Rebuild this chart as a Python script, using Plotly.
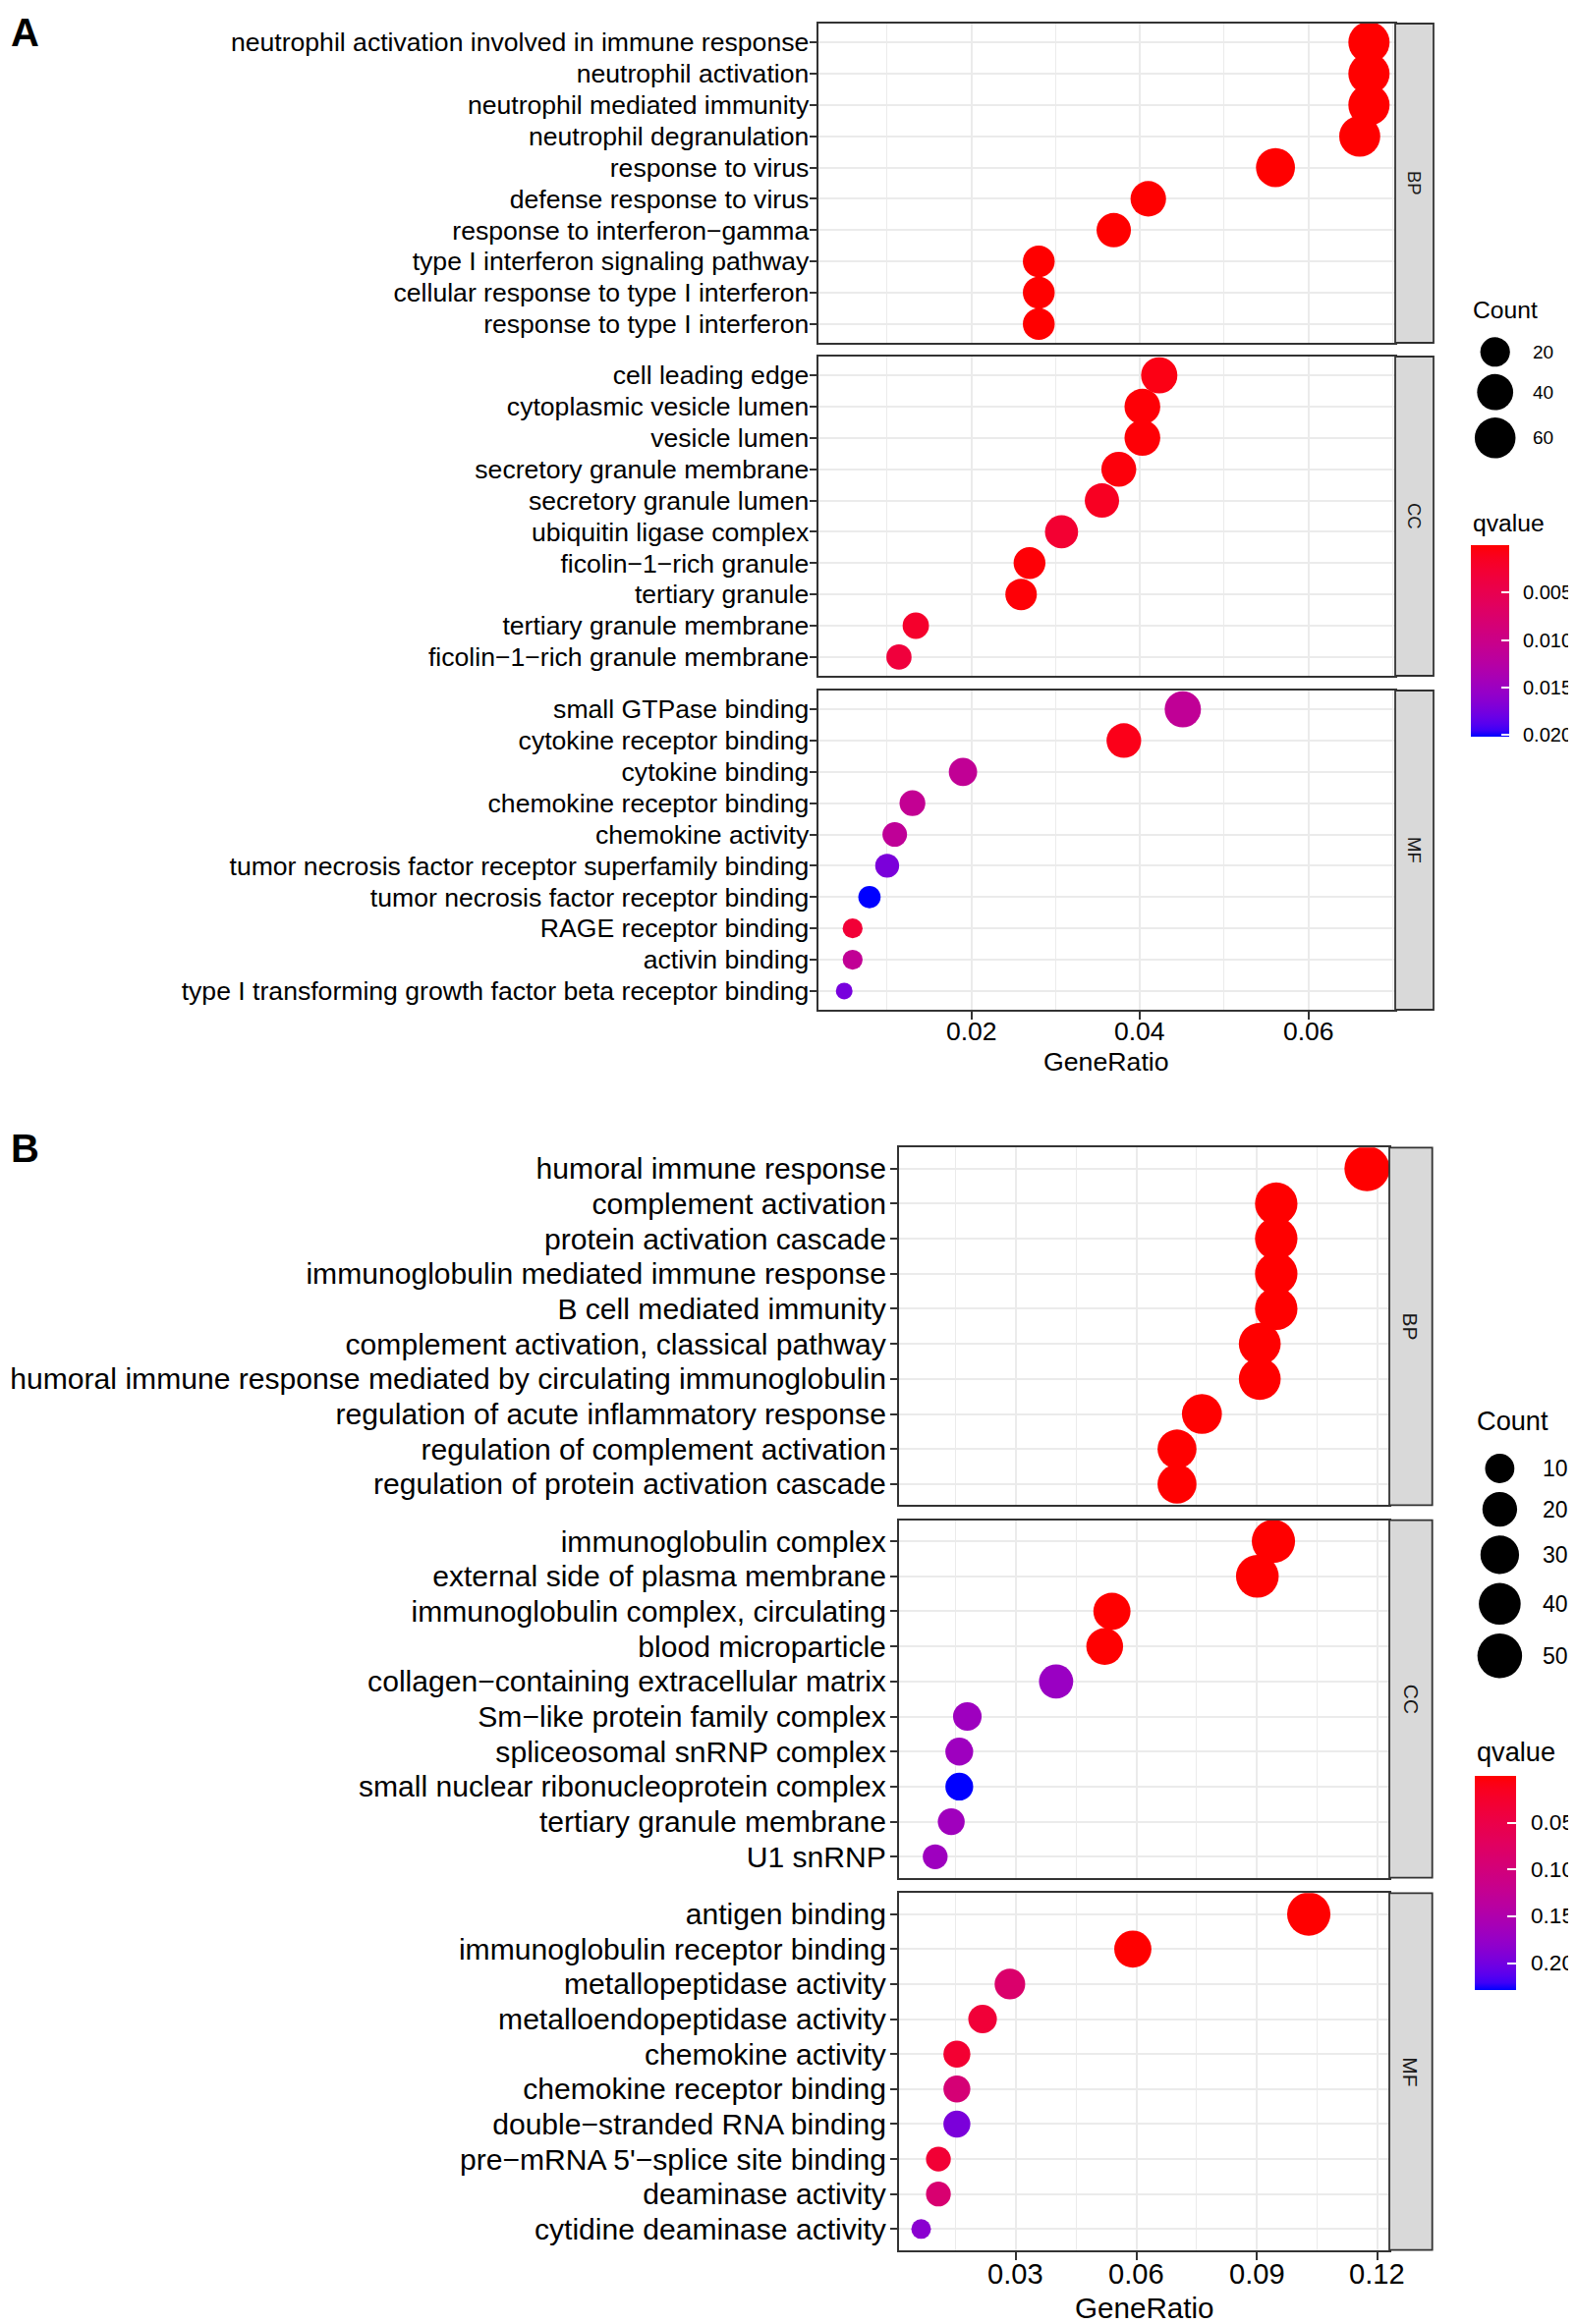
import numpy as np
import plotly.graph_objects as go

W, H = 1604, 2366          # page size
OFF = 8                    # default body margin of the html page
FW, FH = W - OFF, H - OFF  # figure size so that it ends exactly at the page edge

# ---------------- Panel A data ----------------
A_BP_terms = ["neutrophil activation involved in immune response", "neutrophil activation",
              "neutrophil mediated immunity", "neutrophil degranulation", "response to virus",
              "defense response to virus", "response to interferon\u2212gamma",
              "type I interferon signaling pathway", "cellular response to type I interferon",
              "response to type I interferon"]
A_BP_ratio = [0.0672, 0.0672, 0.0672, 0.0661, 0.0561, 0.0410, 0.0369, 0.0280, 0.0280, 0.0280]
A_BP_count = [62, 62, 62, 61, 52, 38, 34, 26, 26, 26]
A_BP_q = [1e-10, 1e-10, 1e-10, 2e-10, 5e-9, 3e-7, 9e-7, 2e-6, 2e-6, 2e-6]

A_CC_terms = ["cell leading edge", "cytoplasmic vesicle lumen", "vesicle lumen",
              "secretory granule membrane", "secretory granule lumen", "ubiquitin ligase complex",
              "ficolin\u22121\u2212rich granule", "tertiary granule", "tertiary granule membrane",
              "ficolin\u22121\u2212rich granule membrane"]
A_CC_ratio = [0.0423, 0.0403, 0.0403, 0.0375, 0.0355, 0.0307, 0.0269, 0.0259, 0.0134, 0.0114]
A_CC_count = [41, 39, 39, 36, 34, 30, 26, 25, 13, 11]
A_CC_q = [0.0007, 0.0002, 0.0002, 0.0004, 0.0015, 0.0026, 0.0002, 0.0002, 0.0022, 0.0034]

A_MF_terms = ["small GTPase binding", "cytokine receptor binding", "cytokine binding",
              "chemokine receptor binding", "chemokine activity",
              "tumor necrosis factor receptor superfamily binding",
              "tumor necrosis factor receptor binding", "RAGE receptor binding", "activin binding",
              "type I transforming growth factor beta receptor binding"]
A_MF_ratio = [0.0451, 0.0381, 0.0190, 0.0130, 0.0109, 0.0100, 0.0079, 0.0059, 0.0059, 0.0049]
A_MF_count = [41, 35, 17, 12, 10, 9, 7, 5, 5, 4]
A_MF_q = [0.0113, 0.0010, 0.0112, 0.0110, 0.0114, 0.0172, 0.0202, 0.0030, 0.0112, 0.0174]

A_size_legend = [20, 40, 60]
A_q_ticks = [0.005, 0.010, 0.015, 0.020]
A_q_ticktext = ["0.005", "0.010", "0.015", "0.020"]
A_x_ticks = [0.02, 0.04, 0.06]
A_x_ticktext = ["0.02", "0.04", "0.06"]
A_x_minor = 0.01

# ---------------- Panel B data ----------------
B_BP_terms = ["humoral immune response", "complement activation", "protein activation cascade",
              "immunoglobulin mediated immune response", "B cell mediated immunity",
              "complement activation, classical pathway",
              "humoral immune response mediated by circulating immunoglobulin",
              "regulation of acute inflammatory response", "regulation of complement activation",
              "regulation of protein activation cascade"]
B_BP_ratio = [0.1174, 0.0948, 0.0948, 0.0948, 0.0948, 0.0907, 0.0907, 0.0763, 0.0701, 0.0701]
B_BP_count = [52, 42, 42, 42, 42, 40, 40, 34, 31, 31]
B_BP_q = [1e-12, 1e-11, 1e-11, 1e-11, 1e-11, 2e-11, 2e-11, 1e-9, 5e-9, 5e-9]

B_CC_terms = ["immunoglobulin complex", "external side of plasma membrane",
              "immunoglobulin complex, circulating", "blood microparticle",
              "collagen\u2212containing extracellular matrix", "Sm\u2212like protein family complex",
              "spliceosomal snRNP complex", "small nuclear ribonucleoprotein complex",
              "tertiary granule membrane", "U1 snRNP"]
B_CC_ratio = [0.0941, 0.0901, 0.0539, 0.0521, 0.0400, 0.0179, 0.0159, 0.0159, 0.0139, 0.0099]
B_CC_count = [45, 43, 26, 25, 19, 9, 8, 8, 7, 5]
B_CC_q = [1e-8, 2e-8, 1e-4, 3e-4, 0.172, 0.168, 0.168, 0.229, 0.166, 0.168]

B_MF_terms = ["antigen binding", "immunoglobulin receptor binding", "metallopeptidase activity",
              "metalloendopeptidase activity", "chemokine activity", "chemokine receptor binding",
              "double\u2212stranded RNA binding", "pre\u2212mRNA 5'\u2212splice site binding",
              "deaminase activity", "cytidine deaminase activity"]
B_MF_ratio = [0.1029, 0.0591, 0.0285, 0.0217, 0.0153, 0.0153, 0.0153, 0.0107, 0.0107, 0.0064]
B_MF_count = [45, 26, 12, 9, 7, 7, 7, 5, 5, 3]
B_MF_q = [1e-9, 1e-4, 0.085, 0.035, 0.030, 0.095, 0.195, 0.032, 0.090, 0.185]

B_size_legend = [10, 20, 30, 40, 50]
B_q_ticks = [0.05, 0.10, 0.15, 0.20]
B_q_ticktext = ["0.05", "0.10", "0.15", "0.20"]
B_x_ticks = [0.03, 0.06, 0.09, 0.12]
B_x_ticktext = ["0.03", "0.06", "0.09", "0.12"]
B_x_minor = 0.015

FACET_NAMES = ["BP", "CC", "MF"]

# ---------------- styles ----------------
FONT = "Liberation Sans, Arial, sans-serif"
GRID = "#EBEBEB"
BORDER = "#333333"
STRIP = "#D9D9D9"


# ---------------- Lab colour interpolation (red -> blue, like ggplot) ----------------
M = np.array([[0.4124564, 0.3575761, 0.1804375],
              [0.2126729, 0.7151522, 0.0721750],
              [0.0193339, 0.1191920, 0.9503041]])
WHITE = np.array([0.95047, 1.0, 1.08883])


def _lin(c):
    c = np.asarray(c, dtype=float) / 255.0
    return np.where(c <= 0.04045, c / 12.92, ((c + 0.055) / 1.055) ** 2.4)


def _delin(c):
    c = np.clip(c, 0, 1)
    return np.where(c <= 0.0031308, 12.92 * c, 1.055 * c ** (1 / 2.4) - 0.055) * 255


def rgb2lab(rgb):
    xyz = M @ _lin(rgb) / WHITE
    f = np.where(xyz > 0.008856, np.cbrt(xyz), 7.787 * xyz + 16 / 116)
    return np.array([116 * f[1] - 16, 500 * (f[0] - f[1]), 200 * (f[1] - f[2])])


def lab2rgb(lab):
    L, a, b = lab
    fy_ = (L + 16) / 116
    f = np.array([fy_ + a / 500, fy_, fy_ - b / 200])
    xyz = np.where(f ** 3 > 0.008856, f ** 3, (f - 16 / 116) / 7.787) * WHITE
    return _delin(np.linalg.solve(M, xyz))


RED_LAB = rgb2lab([255, 0, 0])
BLUE_LAB = rgb2lab([0, 0, 255])
COLORSCALE = []
for s in np.linspace(0, 1, 31):
    r, g, b = lab2rgb(BLUE_LAB + s * (RED_LAB - BLUE_LAB))
    COLORSCALE.append([float(s), f"rgb({int(round(r))},{int(round(g))},{int(round(b))})"])


def diam(c, cmin, cmax, dmin, dmax):
    c = np.asarray(c, dtype=float)
    return dmin + (dmax - dmin) * np.sqrt(np.clip((c - cmin) / (cmax - cmin), 0, 1))


def fx(px):   # page pixel -> figure paper fraction (x)
    return (px - OFF) / FW


def fy(py):   # page pixel -> figure paper fraction (y, from bottom)
    return 1 - (py - OFF) / FH


panels = [
    dict(letter="A", letter_xy=(25, 8.5),
         facets=[(A_BP_terms, A_BP_ratio, A_BP_count, A_BP_q),
                 (A_CC_terms, A_CC_ratio, A_CC_count, A_CC_q),
                 (A_MF_terms, A_MF_ratio, A_MF_count, A_MF_q)],
         x0=832.5, x1=1420, strip_x1=1459,
         facet_y=[(24, 349), (363, 688), (703, 1028)],
         x_ticks=A_x_ticks, x_ticktext=A_x_ticktext, minor=A_x_minor,
         fs_y=26.6, fs_x=26.5, fs_title=26.7, fs_strip=18.5, y_standoff=-5,
         xlab_y=1050, title_y=1081, dmin=17, dmax=42,
         size_legend=A_size_legend, leg_title_y=315, leg_x=1496.7, key_x=1521.7,
         key_y0=358.3, key_pad=7.5, key_label_x=1558, fs_leg_title=24.7, fs_leg=19,
         q_title_y=532.3, cb_top=555, cb_bot=750, cb_w=39, cb_label_x=1547.7,
         q_ticks=A_q_ticks, q_ticktext=A_q_ticktext, fs_cb=20),
    dict(letter="B", letter_xy=(25, 1145),
         facets=[(B_BP_terms, B_BP_ratio, B_BP_count, B_BP_q),
                 (B_CC_terms, B_CC_ratio, B_CC_count, B_CC_q),
                 (B_MF_terms, B_MF_ratio, B_MF_count, B_MF_q)],
         x0=914.8, x1=1414, strip_x1=1457.7,
         facet_y=[(1168.3, 1532.3), (1547.7, 1911.7), (1927.3, 2290.7)],
         x_ticks=B_x_ticks, x_ticktext=B_x_ticktext, minor=B_x_minor,
         fs_y=30.1, fs_x=29.1, fs_title=29.6, fs_strip=21, y_standoff=-2,
         xlab_y=2315, title_y=2349, dmin=20, dmax=46,
         size_legend=B_size_legend, leg_title_y=1446.7, leg_x=1500.8, key_x=1526.4,
         key_y0=1495, key_pad=9.0, key_label_x=1568, fs_leg_title=27.2, fs_leg=23,
         q_title_y=1783.3, cb_top=1808.3, cb_bot=2026, cb_w=42, cb_label_x=1556.4,
         q_ticks=B_q_ticks, q_ticktext=B_q_ticktext, fs_cb=22.6),
]

fig = go.Figure()
layout = dict(width=FW, height=FH, margin=dict(l=0, r=0, t=0, b=0),
              paper_bgcolor="white", plot_bgcolor="rgba(0,0,0,0)", showlegend=False,
              template="none")
annotations, shapes = [], []
OV = ("x7", "y7")  # pixel overlay axes (page pixel coordinates)

ax_i = 0
for p_idx, p in enumerate(panels):
    all_ratio = np.concatenate([f[1] for f in p["facets"]])
    all_count = np.concatenate([f[2] for f in p["facets"]])
    all_q = np.concatenate([f[3] for f in p["facets"]])
    lo, hi = all_ratio.min(), all_ratio.max()
    xr = [lo - 0.05 * (hi - lo), hi + 0.05 * (hi - lo)]
    cmin, cmax = all_count.min(), all_count.max()
    cax = "coloraxis" if p_idx == 0 else "coloraxis2"

    for f_idx, (terms, ratio, count, q) in enumerate(p["facets"]):
        ax_i += 1
        xa = "xaxis" if ax_i == 1 else f"xaxis{ax_i}"
        ya = "yaxis" if ax_i == 1 else f"yaxis{ax_i}"
        xref = "x" if ax_i == 1 else f"x{ax_i}"
        yref = "y" if ax_i == 1 else f"y{ax_i}"
        y0, y1 = p["facet_y"][f_idx]
        bottom = f_idx == len(p["facets"]) - 1
        layout[xa] = dict(domain=[fx(p["x0"]), fx(p["x1"])], range=xr, anchor=yref,
                          tickmode="array", tickvals=p["x_ticks"],
                          showgrid=True, gridcolor=GRID, gridwidth=2.2,
                          minor=dict(tick0=0, dtick=p["minor"], showgrid=True,
                                     gridcolor=GRID, gridwidth=1.2, ticks=""),
                          showline=True, mirror=True, linecolor=BORDER, linewidth=1.8,
                          zeroline=False, ticks="outside" if bottom else "", ticklen=8,
                          tickwidth=1.8, tickcolor=BORDER, showticklabels=False,
                          automargin=False, fixedrange=True)
        n = len(terms)
        layout[ya] = dict(domain=[fy(y1), fy(y0)], type="category",
                          categoryorder="array", categoryarray=terms,
                          tickmode="array", tickvals=terms, ticktext=terms,
                          range=[n - 1 + 0.6, -0.6], anchor=xref,
                          showgrid=True, gridcolor=GRID, gridwidth=2.2,
                          showline=True, mirror=True, linecolor=BORDER, linewidth=1.8,
                          zeroline=False, ticks="outside", ticklen=7, tickwidth=1.8,
                          tickcolor=BORDER, ticklabelstandoff=p["y_standoff"],
                          tickfont=dict(family=FONT, size=p["fs_y"], color="black"),
                          automargin=False, fixedrange=True)
        fig.add_trace(go.Scatter(
            x=ratio, y=terms, mode="markers", xaxis=xref, yaxis=yref,
            marker=dict(size=diam(count, cmin, cmax, p["dmin"], p["dmax"]),
                        color=[-v for v in q], coloraxis=cax, line=dict(width=0), opacity=1),
            hoverinfo="skip"))
        # strip
        shapes.append(dict(type="rect", xref=OV[0], yref=OV[1], x0=p["x1"], x1=p["strip_x1"],
                           y0=y0, y1=y1, fillcolor=STRIP, line=dict(color=BORDER, width=1.8),
                           layer="above"))
        annotations.append(dict(xref=OV[0], yref=OV[1], x=(p["x1"] + p["strip_x1"]) / 2,
                                y=(y0 + y1) / 2, text=FACET_NAMES[f_idx], textangle=90,
                                showarrow=False, xanchor="center", yanchor="middle",
                                font=dict(family=FONT, size=p["fs_strip"], color="#1A1A1A")))
        if bottom:
            for tv, tt in zip(p["x_ticks"], p["x_ticktext"]):
                annotations.append(dict(xref=xref, yref=OV[1], x=tv, y=p["xlab_y"], text=tt,
                                        showarrow=False, xanchor="center", yanchor="middle",
                                        font=dict(family=FONT, size=p["fs_x"], color="black")))

    # axis title
    annotations.append(dict(xref=OV[0], yref=OV[1], x=(p["x0"] + p["x1"]) / 2, y=p["title_y"],
                            text="GeneRatio", showarrow=False, xanchor="center", yanchor="middle",
                            font=dict(family=FONT, size=p["fs_title"], color="black")))
    # panel letter
    annotations.append(dict(xref=OV[0], yref=OV[1], x=p["letter_xy"][0], y=p["letter_xy"][1],
                            text=f"<b>{p['letter']}</b>", showarrow=False, xanchor="center",
                            yanchor="top",
                            font=dict(family=FONT, size=40, color="black")))

    # size legend
    annotations.append(dict(xref=OV[0], yref=OV[1], x=p["leg_x"], y=p["leg_title_y"],
                            text="Count", showarrow=False, xanchor="left", yanchor="middle",
                            font=dict(family=FONT, size=p["fs_leg_title"], color="black")))
    kd = diam(p["size_legend"], cmin, cmax, p["dmin"], p["dmax"])
    ky = [p["key_y0"]]
    for i in range(1, len(kd)):
        ky.append(ky[-1] + (kd[i - 1] + kd[i]) / 2 + p["key_pad"])
    fig.add_trace(go.Scatter(x=[p["key_x"]] * len(kd), y=ky, mode="markers",
                             xaxis=OV[0], yaxis=OV[1], hoverinfo="skip",
                             marker=dict(size=kd, color="#000000", opacity=1,
                                         line=dict(width=0))))
    for v, yy in zip(p["size_legend"], ky):
        annotations.append(dict(xref=OV[0], yref=OV[1], x=p["key_label_x"], y=yy, text=str(v),
                                showarrow=False, xanchor="left", yanchor="middle",
                                font=dict(family=FONT, size=p["fs_leg"], color="black")))
    # colour legend
    annotations.append(dict(xref=OV[0], yref=OV[1], x=p["leg_x"], y=p["q_title_y"],
                            text="qvalue", showarrow=False, xanchor="left", yanchor="middle",
                            font=dict(family=FONT, size=p["fs_leg_title"], color="black")))
    qmin, qmax = float(all_q.min()), float(all_q.max())
    layout[cax] = dict(
        colorscale=COLORSCALE, cmin=-qmax, cmax=-qmin,
        colorbar=dict(x=fx(p["leg_x"]), xanchor="left", xref="paper",
                      y=fy((p["cb_top"] + p["cb_bot"]) / 2), yanchor="middle", yref="paper",
                      len=p["cb_bot"] - p["cb_top"], lenmode="pixels",
                      thickness=p["cb_w"], thicknessmode="pixels",
                      outlinewidth=0, xpad=0, ypad=0,
                      tickmode="array", tickvals=[-v for v in p["q_ticks"]],
                      ticktext=[""] * len(p["q_ticks"]),
                      ticks="inside", ticklen=p["cb_w"] / 5, tickwidth=1.5, tickcolor="white",
                      tickfont=dict(family=FONT, size=2, color="white")))
    # colourbar tick labels placed at the bar's value positions
    span = p["cb_bot"] - p["cb_top"]
    for tv, tt in zip(p["q_ticks"], p["q_ticktext"]):
        yy = p["cb_top"] + (tv - qmin) / (qmax - qmin) * span
        annotations.append(dict(xref=OV[0], yref=OV[1], x=p["cb_label_x"], y=yy, text=tt,
                                showarrow=False, xanchor="left", yanchor="middle",
                                font=dict(family=FONT, size=p["fs_cb"], color="black")))
        # left-side white tick like ggplot colourbar
        shapes.append(dict(type="line", xref=OV[0], yref=OV[1], x0=p["leg_x"],
                           x1=p["leg_x"] + p["cb_w"] / 5, y0=yy, y1=yy,
                           line=dict(color="white", width=1.5), layer="above"))

layout["xaxis7"] = dict(domain=[0, 1], range=[OFF, W], visible=False, anchor="y7",
                        fixedrange=True)
layout["yaxis7"] = dict(domain=[0, 1], range=[H, OFF], visible=False, anchor="x7",
                        fixedrange=True)
layout["annotations"] = annotations
layout["shapes"] = shapes
fig.update_layout(**layout)
fig.write_html("out.html")
